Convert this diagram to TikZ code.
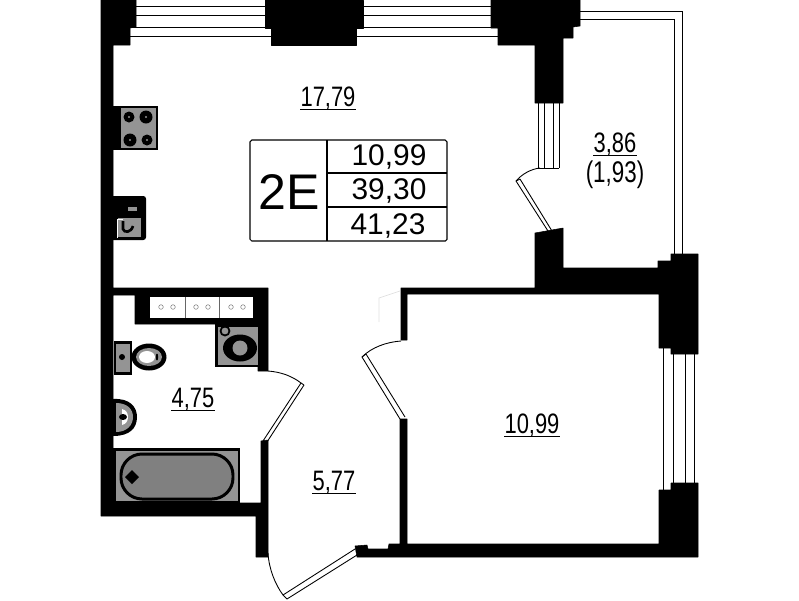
\documentclass[tikz,border=0pt]{standalone}
\usepackage{fontspec}
\setmainfont{Liberation Sans}
\definecolor{fixture}{gray}{0.58}
\definecolor{tubgray}{gray}{0.5}
\tikzset{
    wall/.style={fill=black, draw=black, line width=0.3pt, line join=round},
    glass/.style={draw=black, line width=0.5pt},
    swing/.style={draw=black, line width=0.5pt},
    unit/.style={fill=fixture, draw=black, line width=1.7pt},
    arealabel/.style={font=\fontsize{16}{17}\selectfont, xscale=0.78, inner xsep=0pt, inner ysep=1.2pt, text depth=0pt},
    arearule/.style={draw=black, line width=0.7pt},
    sumtext/.style={font=\fontsize{17}{18}\selectfont, inner sep=0pt},
    tablerule/.style={draw=black, line width=0.6pt},
}
\begin{document}
\begin{tikzpicture}[x=0.02cm, y=-0.02cm]
    \useasboundingbox (0,0) rectangle (799,600);

    % walls
    \path[wall] (101,0) -- (136,0) -- (136,27) -- (130,28) -- (130,45) -- (113,45) -- (113,288)
        -- (268,288) -- (268,371) -- (258,371) -- (258,324) -- (135,324) -- (135,295) -- (113,295)
        -- (113,503) -- (261,503) -- (261,441) -- (268,440) -- (268,557) -- (256,557) -- (256,516)
        -- (101,516) -- cycle;
    \path[wall] (265,0) -- (363,0) -- (363,28) -- (356,28) -- (356,45) -- (271,45) -- (271,28) -- (265,28) -- cycle;
    \path[wall] (491,0) -- (580,0) -- (580,26) -- (573,27) -- (573,38) -- (563,38) -- (563,103) -- (535,103)
        -- (535,45) -- (498,45) -- (498,28) -- (491,28) -- cycle;
    \path[wall] (401,288) -- (535,288) -- (535,233) -- (563,228) -- (563,268) -- (658,268) -- (658,261)
        -- (671,261) -- (671,254) -- (698,254) -- (698,354) -- (671,354) -- (671,348) -- (659,348)
        -- (659,294) -- (407,294) -- (407,340) -- (401,340) -- cycle;
    \path[wall] (659,490) -- (671,490) -- (671,483) -- (698,483) -- (698,557) -- (357,557) -- (355,546)
        -- (367,545) -- (368,549) -- (388,549) -- (389,544) -- (400,544) -- (400,419) -- (407,419)
        -- (407,544) -- (659,544) -- cycle;
    \draw[draw=black!12, line width=0.4pt] (379,322) -- (379,298) -- (400,291);

    % windows
    \foreach \yy in {6,15,27} {
        \draw[glass] (136,\yy) -- (265,\yy);
        \draw[glass] (363,\yy) -- (491,\yy);
    }
    \draw[glass] (130,27) -- (271,27);
    \draw[glass] (130,36) -- (271,36);
    \draw[glass] (356,27) -- (498,27);
    \draw[glass] (356,36) -- (498,36);
    \foreach \xx in {538,544,553,559} {
        \draw[glass] (\xx,103) -- (\xx,168);
    }
    \draw[glass] (538,168) -- (559,168);
    \foreach \xx in {663,673} {
        \draw[glass] (\xx,348) -- (\xx,490);
    }
    \foreach \xx in {685,694} {
        \draw[glass] (\xx,354) -- (\xx,483);
    }

    % balcony
    \draw[glass] (580,11) -- (682,11) -- (682,255);
    \draw[glass] (580,19) -- (674,19) -- (674,255);

    % doors
    \draw[glass] (516,181) -- (548,231);
    \draw[glass] (520,179) -- (552,231);
    \draw[glass] (516,181) -- (520,179);
    \draw[swing] (540,168) .. controls (531,169) and (522,174) .. (516,181);
    \draw[glass] (362,357) -- (400,419);
    \draw[glass] (366,354) -- (405,417);
    \draw[glass] (362,357) -- (366,354);
    \draw[swing] (401,341) .. controls (387,342) and (372,347) .. (362,357);
    \draw[glass] (263,441) -- (301,383);
    \draw[glass] (267,442) -- (304,385);
    \draw[glass] (301,383) -- (304,385);
    \draw[swing] (268,371) .. controls (281,372) and (292,376) .. (301,383);
    \draw[glass] (283,595) -- (355,549);
    \draw[glass] (287,599) -- (357,555);
    \draw[glass] (283,595) -- (287,599);
    \draw[swing] (268,553) .. controls (269,569) and (275,584) .. (283,595);

    % hob
    \fill[black] (113,106) rectangle (158,150);
    \fill[fixture] (121,108) rectangle (156,148);
    \foreach \cx/\cy/\rr in {129/117/5.5, 146/117/6.5, 130/140/6.5, 147/140/5.5} {
        \fill[black] (\cx,\cy) circle (\rr);
        \fill[fixture] (\cx,\cy) circle (1.2);
    }

    % kitchen sink
    \fill[black, rounded corners=1.5pt] (110,196) rectangle (146,240);
    \fill[fixture] (128,207) rectangle (137,211);
    \fill[fixture] (118,218) rectangle (141,237);
    \draw[white, line width=0.5pt] (117,238) -- (117,219) -- (123,219);
    \draw[black, line width=1.5pt] (123,221) -- (123,229) .. controls (124,233) and (131,233) .. (133,226);

    % niche above the washer
    \fill[white] (150,297) rectangle (253,318);
    \foreach \xx in {185,219} {
        \draw[draw=black!60, line width=0.4pt] (\xx,297) -- (\xx,318);
    }
    \foreach \xx in {161,173,196,208,231,243} {
        \draw[draw=black!50, line width=0.3pt] (\xx,307) circle (2.3);
    }

    % washer
    \fill[black] (215,324) rectangle (260,367);
    \fill[fixture] (218,327) rectangle (258,365);
    \draw[black, line width=1pt, fill=fixture] (225,331) circle (4.5);
    \fill[black] (240,348) ellipse (17 and 13.5);
    \fill[fixture] (240,348) circle (7.5);

    % toilet
    \path[unit] (115,342) rectangle (131,373);
    \fill[black] (122,357) circle (3);
    \fill[black] (149,357) ellipse (17.5 and 13.5);
    \fill[fixture] (149,357) ellipse (13 and 9);
    \fill[white] (147,357) ellipse (8 and 6);
    \fill[black] (157,357) ellipse (1.2 and 3.5);

    % bidet
    \fill[black] (113,399) .. controls (130,398) and (137,407) .. (137,417) .. controls (137,428) and (130,436) .. (113,436) -- cycle;
    \fill[fixture] (116,403) .. controls (127,403) and (133,409) .. (133,417) .. controls (133,425) and (127,432) .. (116,432) -- cycle;
    \fill[white] (122,409) .. controls (126,410) and (128,413) .. (128,417) .. controls (128,421) and (126,424) .. (122,425) -- cycle;
    \fill[black] (123,417) ellipse (4 and 3);

    % bath
    \fill[black] (113,448) rectangle (240,503);
    \fill[fixture] (116,451) rectangle (238,501);
    \draw[black, line width=1.7pt, fill=tubgray, rounded corners=12pt] (121,454) rectangle (233,499);
    \fill[black] (125,477) -- (132,470) -- (139,477) -- (132,484) -- cycle;

    % area labels
    \node[arealabel] (kitchen) at (328,97) {17,79};
    \node[arealabel] (loggia) at (615,143) {3,86};
    \node[arealabel] (bath) at (193,398) {4,75};
    \node[arealabel] (hall) at (334,481) {5,77};
    \node[arealabel] (bedroom) at (532,424) {10,99};
    \node[arealabel, font=\fontsize{17}{18}\selectfont, xscale=0.96] (loggiacalc) at (615,172) {(1,93)};
    \draw[arearule] (kitchen.south west) -- (kitchen.south east);
    \draw[arearule] (loggia.south west) -- (loggia.south east);
    \draw[arearule] (bath.south west) -- (bath.south east);
    \draw[arearule] (hall.south west) -- (hall.south east);
    \draw[arearule] (bedroom.south west) -- (bedroom.south east);

    % summary table
    \draw[tablerule, rounded corners=1pt] (250,140) rectangle (447,241);
    \draw[tablerule] (327,140) -- (327,241);
    \draw[tablerule] (327,173) -- (447,173);
    \draw[tablerule] (327,207) -- (447,207);
    \node[font=\fontsize{28.5}{30}\selectfont, inner sep=0pt] (flattype) at (289,192) {2E};
    \node[sumtext] (livingarea) at (389,157) {10,99};
    \node[sumtext] (flatarea) at (389,191) {39,30};
    \node[sumtext] (totalarea) at (388,226) {41,23};
\end{tikzpicture}
\end{document}
